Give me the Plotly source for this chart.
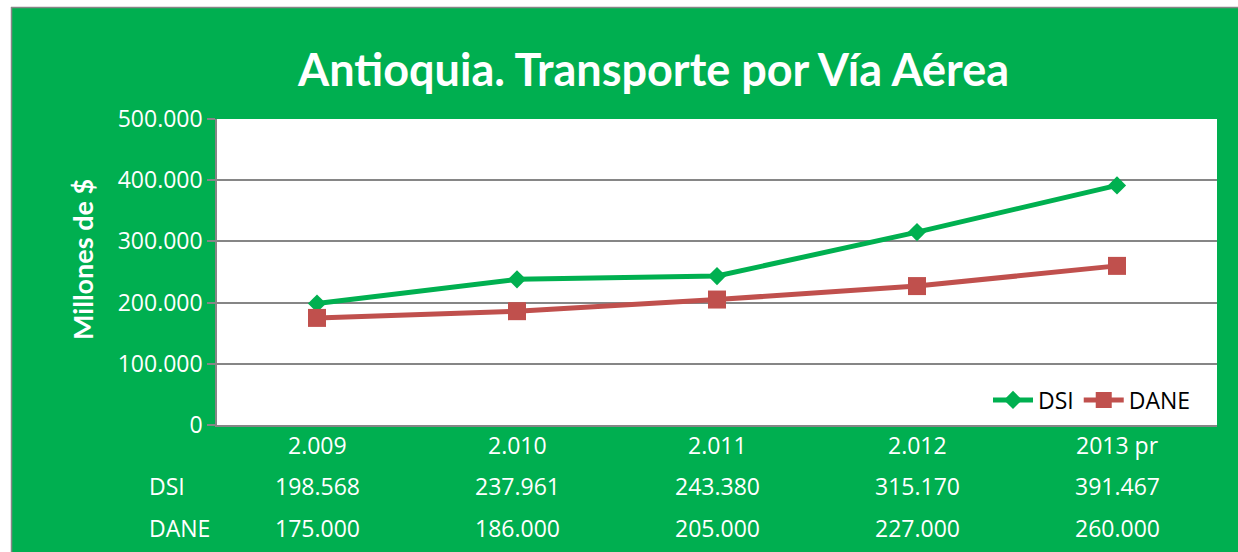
import plotly.graph_objects as go

categories = ["2.009", "2.010", "2.011", "2.012", "2013 pr"]
dsi = [198568, 237961, 243380, 315170, 391467]
dane = [175000, 186000, 205000, 227000, 260000]
series_names = ["DSI", "DANE"]
y_ticks = [0, 100000, 200000, 300000, 400000, 500000]

GREEN_BG = "#00AF50"
GREEN = "#00B050"
RED = "#C0504D"
GRID = "#868686"
TFONT = "Lato"
NFONT = "Open Sans"

OFF = 0  # body margin removed by post_script
W, H = 1238, 552
L, R, T, B = 217, 21, 119, 127
PW, PH = W - L - R, H - T - B


def px_x(p):  # page pixel -> paper
    return (p - OFF - L) / PW


def px_y(p):
    return (H - B - (p - OFF)) / PH


def fmt(v):
    return f"{v:,}".replace(",", ".")


fig = go.Figure()
fig.add_trace(go.Scatter(
    x=categories, y=dsi, name=series_names[0], mode="lines+markers",
    line=dict(color=GREEN, width=5),
    marker=dict(symbol="diamond", size=14, color=GREEN),
))
fig.add_trace(go.Scatter(
    x=categories, y=dane, name=series_names[1], mode="lines+markers",
    line=dict(color=RED, width=5),
    marker=dict(symbol="square", size=18, color=RED),
))

annotations = []
annotations.append(dict(
    text="<b>Antioquia. Transporte por Vía Aérea</b>", xref="paper", yref="paper",
    x=px_x(653), y=px_y(69), xanchor="center", yanchor="middle", showarrow=False,
    font=dict(family=TFONT, size=45, color="white"),
))
annotations.append(dict(
    text="<b>Millones de $</b>", xref="paper", yref="paper", textangle=-90,
    x=px_x(82), y=px_y(260), xanchor="center", yanchor="middle", showarrow=False,
    font=dict(family=TFONT, size=27, color="white"),
))
rows = [(series_names[0], dsi, 486), (series_names[1], dane, 528)]
for label, vals, ypx in rows:
    annotations.append(dict(
        text=label, xref="paper", yref="paper", x=px_x(147), y=px_y(ypx),
        xanchor="left", yanchor="middle", showarrow=False,
        font=dict(family=NFONT, size=23, color="white"),
    ))
    for i, v in enumerate(vals):
        annotations.append(dict(
            text=fmt(v), xref="x", yref="paper", x=i, y=px_y(ypx),
            xanchor="center", yanchor="middle", showarrow=False,
            font=dict(family=NFONT, size=23, color="white"),
        ))
for i, c in enumerate(categories):
    annotations.append(dict(
        text=c, xref="x", yref="paper", x=i, y=px_y(445),
        xanchor="center", yanchor="middle", showarrow=False,
        font=dict(family=NFONT, size=23, color="white"),
    ))

shapes = [
    dict(type="rect", xref="paper", yref="paper", x0=px_x(-5), x1=px_x(11),
         y0=px_y(H + 20), y1=px_y(-5), fillcolor="white", line=dict(width=0), layer="above"),
    dict(type="rect", xref="paper", yref="paper", x0=px_x(-5), x1=px_x(W + 20),
         y0=px_y(7), y1=px_y(-5), fillcolor="white", line=dict(width=0), layer="above"),
    dict(type="line", xref="paper", yref="paper", x0=px_x(11), x1=px_x(W + 20),
         y0=px_y(7.5), y1=px_y(7.5), line=dict(color=GRID, width=1.5), layer="above"),
    dict(type="line", xref="paper", yref="paper", x0=px_x(11.5), x1=px_x(11.5),
         y0=px_y(7), y1=px_y(H + 20), line=dict(color=GRID, width=1.5), layer="above"),
]

fig.update_layout(
    width=W, height=H,
    margin=dict(l=L, r=R, t=T, b=B, pad=0),
    paper_bgcolor=GREEN_BG, plot_bgcolor="white",
    separators=",.",
    font=dict(family=NFONT, color="white"),
    showlegend=True,
    legend=dict(
        orientation="h", x=px_x(1196), y=px_y(400), xanchor="right", yanchor="middle",
        bgcolor="rgba(0,0,0,0)", font=dict(family=NFONT, size=23, color="black"),
        itemwidth=40, tracegroupgap=0,
    ),
    xaxis=dict(
        type="category", range=[-0.5, 4.5], showticklabels=False, showgrid=False,
        showline=True, linecolor=GRID, linewidth=1.5, ticks="", zeroline=False,
    ),
    yaxis=dict(
        range=[0, 500000], tickvals=y_ticks, tickformat=",d",
        showgrid=True, gridcolor=GRID, gridwidth=1.5,
        showline=True, linecolor=GRID, linewidth=1.5,
        ticks="outside", ticklen=8, tickcolor=GRID, tickwidth=1.5,
        tickfont=dict(family=NFONT, size=23, color="white"), zeroline=False,
    ),
    annotations=annotations,
    shapes=shapes,
)

fig.write_html(
    "out.html",
    config={"displayModeBar": False},
    post_script=(
        "document.body.style.margin='0';"
        "document.documentElement.style.overflow='hidden';"
        "document.body.style.overflow='hidden';"
    ),
)
